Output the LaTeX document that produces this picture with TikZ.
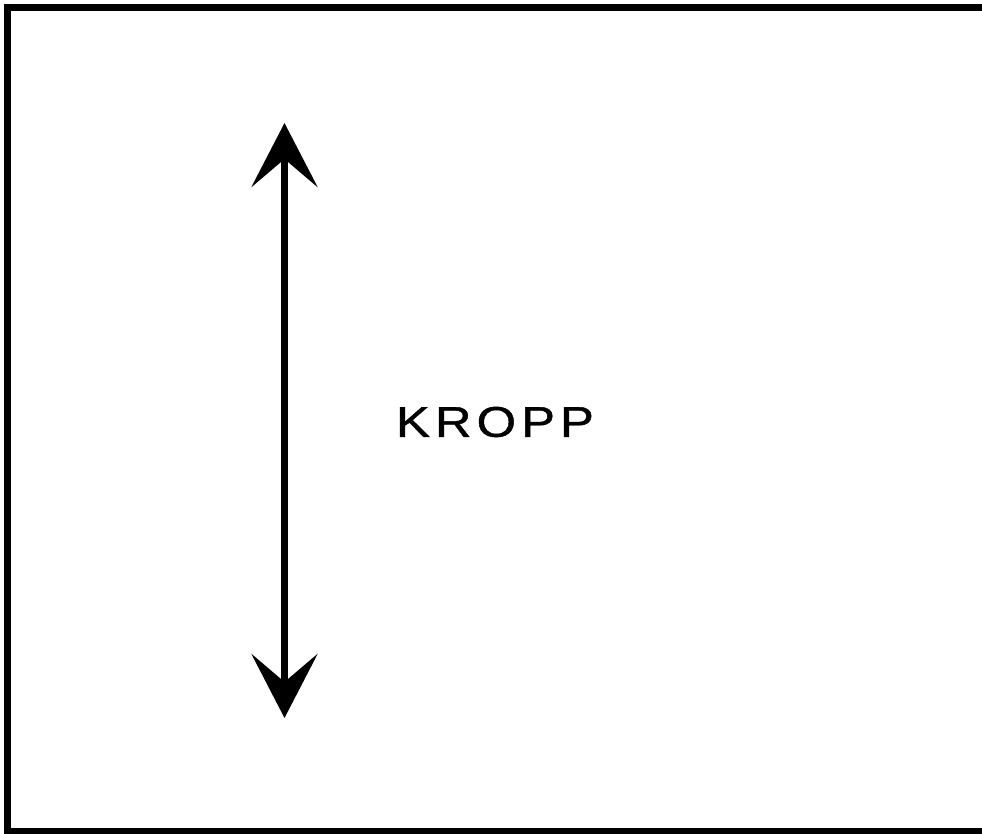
\documentclass[tikz,border=0pt]{standalone}
\usepackage{fontspec}
\setmainfont{Liberation Sans}
\usetikzlibrary{arrows.meta}

\begin{document}
\begin{tikzpicture}[x=1pt, y=-1pt]
    \useasboundingbox (0,0) rectangle (982,834);
    % ram (open mot hoger)
    \draw[line width=6.5pt] (990,7.5) -- (7.5,7.5) -- (7.5,831) -- (990,831);

    % pil upp och ner
    \coordinate (topp) at (284.5,123);
    \coordinate (botten) at (284.5,718);
    \draw[line width=7pt, {Stealth[length=64pt, width=66pt, inset=28pt]}-{Stealth[length=64pt, width=66pt, inset=28pt]}]
      (topp) -- (botten);

    \node[font=\fontsize{43}{50}\selectfont\addfontfeatures{LetterSpace=10,FakeBold=1}] (kropp) at (495,422) {\scalebox{1.18}[1]{KROPP}};
\end{tikzpicture}
\end{document}
